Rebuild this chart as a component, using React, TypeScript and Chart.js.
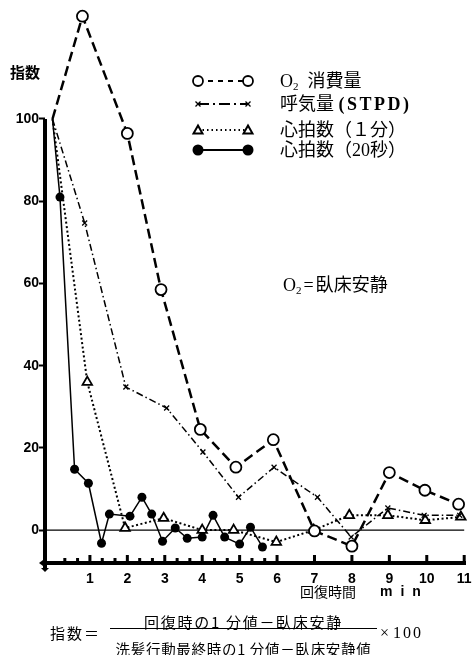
import React, { useEffect, useRef } from 'react';
import { Chart, registerables } from 'chart.js';

Chart.register(...registerables);

// ---- data (minutes, index value) ----
const o2X = [0, 0.8, 2, 2.9, 3.95, 4.9, 5.9, 7, 8, 9, 9.95, 10.85];
const o2Y = [100, 125, 96.5, 58.5, 24.5, 15.3, 22, -0.2, -3.9, 14, 9.7, 6.3];

const ventX = [0, 0.86, 1.96, 3.05, 4.02, 4.97, 5.92, 7.08, 7.98, 8.96, 9.93, 10.88];
const ventY = [100, 74.7, 34.8, 29.7, 19, 8, 15.3, 8, -1.7, 5.4, 3.6, 3.6];

const hr1X = [0, 0.93, 1.94, 2.97, 4.0, 4.84, 5.98, 6.98, 7.93, 8.96, 9.96, 10.91];
const hr1Y = [100, 36, 0.5, 2.9, 0, 0, -2.9, 0, 3.6, 3.6, 2.4, 3.2];

const hr20X = [0, 0.2, 0.59, 0.96, 1.31, 1.52, 2.07, 2.39, 2.65, 2.94, 3.28, 3.6, 4.0, 4.29, 4.6, 5.0, 5.29, 5.61];
const hr20Y = [100, 81, 14.8, 11.4, -3.2, 3.9, 3.4, 8, 3.9, -2.7, 0.5, -2, -1.7, 3.6, -1.7, -3.4, 0.7, -4.1];

const yTickValues = [0, 20, 40, 60, 80, 100];
const xTickValues = [1, 2, 3, 4, 5, 6, 7, 8, 9, 10, 11];
const axisMarks = [0.33, 0.67, 1, 1.33, 1.67, 2, 2.33, 2.67, 3, 3.33, 3.67, 4, 4.33, 4.67, 5, 5.33, 5.67, 6, 7, 8, 9, 10, 11];
const majorMarks = [1, 2, 3, 4, 5, 6, 7, 8, 9, 10, 11];

const legendLabels = ['O₂ 消費量', '呼気量 (STPD)', '心拍数（１分）', '心拍数（20秒）'];

const X_MIN = -0.2;
const X_MAX = 11.04;
const Y_MIN = -8;
const Y_MAX = 127;

const toPts = (xs: number[], ys: number[]) => xs.map((x, i) => ({ x, y: ys[i] }));
// the common starting point (100 at time 0) carries no marker in the original
const radiusSkipFirst = (r: number) => (c: any) => (c.dataIndex === 0 ? 0 : r);

type MarkerKind = 'circle' | 'cross' | 'triangle' | 'dot';

function drawMarker(ctx: CanvasRenderingContext2D, kind: MarkerKind, x: number, y: number) {
  ctx.save();
  ctx.setLineDash([]);
  ctx.strokeStyle = '#000';
  ctx.fillStyle = '#fff';
  if (kind === 'circle') {
    ctx.lineWidth = 1.8;
    ctx.beginPath();
    ctx.arc(x, y, 5, 0, Math.PI * 2);
    ctx.fill();
    ctx.stroke();
  } else if (kind === 'dot') {
    ctx.fillStyle = '#000';
    ctx.beginPath();
    ctx.arc(x, y, 5.5, 0, Math.PI * 2);
    ctx.fill();
  } else if (kind === 'triangle') {
    ctx.lineWidth = 2;
    ctx.beginPath();
    ctx.moveTo(x, y - 4.5);
    ctx.lineTo(x + 4.5, y + 3.5);
    ctx.lineTo(x - 4.5, y + 3.5);
    ctx.closePath();
    ctx.fill();
    ctx.stroke();
  } else {
    ctx.lineWidth = 1.3;
    ctx.beginPath();
    ctx.moveTo(x - 2.5, y - 2.5);
    ctx.lineTo(x + 2.5, y + 2.5);
    ctx.moveTo(x + 2.5, y - 2.5);
    ctx.lineTo(x - 2.5, y + 2.5);
    ctx.stroke();
  }
  ctx.restore();
}

const axisPlugin = {
  id: 'axisDecor',
  beforeDatasetsDraw(chart: any) {
    const { ctx, chartArea, scales } = chart;
    const x = scales.x;
    const y = scales.y;
    ctx.save();
    ctx.strokeStyle = '#000';
    ctx.fillStyle = '#000';
    // zero reference line
    const p0 = y.getPixelForValue(0);
    ctx.lineWidth = 1.3;
    ctx.beginPath();
    ctx.moveTo(chartArea.left, p0);
    ctx.lineTo(x.getPixelForValue(11), p0);
    ctx.stroke();
    // y axis line (only up to 100)
    ctx.lineWidth = 4;
    ctx.beginPath();
    ctx.moveTo(chartArea.left, y.getPixelForValue(100));
    ctx.lineTo(chartArea.left, chartArea.bottom + 5);
    ctx.stroke();
    // small arrow heads at the axis ends
    ctx.beginPath();
    ctx.moveTo(chartArea.left - 4, chartArea.bottom + 5);
    ctx.lineTo(chartArea.left + 4, chartArea.bottom + 5);
    ctx.lineTo(chartArea.left, chartArea.bottom + 9);
    ctx.closePath();
    ctx.fill();
    ctx.beginPath();
    ctx.moveTo(chartArea.left - 2, chartArea.bottom - 3);
    ctx.lineTo(chartArea.left - 2, chartArea.bottom + 3);
    ctx.lineTo(chartArea.left - 6, chartArea.bottom);
    ctx.closePath();
    ctx.fill();
    // small marks above x axis
    axisMarks.forEach((v) => {
      const px = x.getPixelForValue(v);
      const h = majorMarks.includes(v) ? 8 : 5;
      ctx.fillRect(px - 1.5, chartArea.bottom - h, 3, h);
    });
    ctx.restore();
  },
};

const legendRows: { kind: MarkerKind; dash: number[]; width: number; y: number }[] = [
  { kind: 'circle', dash: [5, 5], width: 2, y: 81 },
  { kind: 'cross', dash: [11, 4, 2, 4], width: 1.8, y: 104 },
  { kind: 'triangle', dash: [1.5, 3], width: 1.8, y: 130 },
  { kind: 'dot', dash: [], width: 1.8, y: 150 },
];

const legendPlugin = {
  id: 'lineLegend',
  afterDraw(chart: any) {
    const { ctx } = chart;
    legendRows.forEach((r) => {
      ctx.save();
      ctx.strokeStyle = '#000';
      ctx.lineWidth = r.width;
      ctx.setLineDash(r.dash);
      ctx.beginPath();
      ctx.moveTo(198, r.y);
      ctx.lineTo(248, r.y);
      ctx.stroke();
      ctx.restore();
      drawMarker(ctx, r.kind, 198, r.y);
      drawMarker(ctx, r.kind, 248, r.y);
    });
  },
};

const tickFont = { family: "'Liberation Sans', Arial, sans-serif", size: 14, weight: 'bold' as const };

export default function App() {
  const ref = useRef<HTMLCanvasElement | null>(null);

  useEffect(() => {
    if (!ref.current) return;
    const chart = new Chart(ref.current, {
      type: 'line',
      data: {
        datasets: [
          {
            label: legendLabels[0],
            data: toPts(o2X, o2Y),
            borderColor: '#000',
            borderWidth: 2.5,
            borderDash: [10, 5],
            pointStyle: 'circle',
            pointRadius: radiusSkipFirst(5.5),
            pointBorderWidth: 1.8,
            pointBackgroundColor: '#fff',
            pointBorderColor: '#000',
            tension: 0,
            clip: false,
          },
          {
            label: legendLabels[1],
            data: toPts(ventX, ventY),
            borderColor: '#000',
            borderWidth: 1.5,
            borderDash: [7, 3, 1.5, 3],
            pointStyle: 'crossRot',
            pointRadius: radiusSkipFirst(3.5),
            pointBorderWidth: 1.3,
            pointBorderColor: '#000',
            tension: 0,
            clip: false,
          },
          {
            label: legendLabels[2],
            data: toPts(hr1X, hr1Y),
            borderColor: '#000',
            borderWidth: 2,
            borderDash: [2, 2.5],
            pointStyle: 'triangle',
            pointRadius: radiusSkipFirst(5.5),
            pointBorderWidth: 1.8,
            pointBackgroundColor: '#fff',
            pointBorderColor: '#000',
            tension: 0,
            clip: false,
          },
          {
            label: legendLabels[3],
            data: toPts(hr20X, hr20Y),
            borderColor: '#000',
            borderWidth: 1.5,
            pointStyle: 'circle',
            pointRadius: radiusSkipFirst(4.5),
            pointBorderWidth: 0,
            pointBackgroundColor: '#000',
            pointBorderColor: '#000',
            tension: 0,
            clip: false,
          },
        ],
      },
      options: {
        responsive: false,
        animation: false,
        devicePixelRatio: 1,
        layout: { padding: { top: 8, right: 2, left: 0, bottom: 0 } },
        plugins: {
          legend: { display: false },
          tooltip: { enabled: false },
          title: { display: false },
        },
        scales: {
          x: {
            type: 'linear',
            min: X_MIN,
            max: X_MAX,
            grid: { display: false },
            border: { display: true, color: '#000', width: 4 },
            afterBuildTicks: (s: any) => {
              s.ticks = xTickValues.map((v) => ({ value: v }));
            },
            afterFit: (s: any) => {
              s.height = 92;
              s.paddingLeft = 0;
              s.paddingRight = 0;
            },
            ticks: {
              color: '#000',
              font: tickFont,
              padding: 0,
              maxRotation: 0,
              autoSkip: false,
              callback: (v: any) => String(v),
            },
          },
          y: {
            type: 'linear',
            min: Y_MIN,
            max: Y_MAX,
            grid: {
              display: true,
              drawOnChartArea: false,
              drawTicks: true,
              tickLength: 6,
              tickWidth: 2,
              tickColor: '#000',
            },
            border: { display: false },
            afterBuildTicks: (s: any) => {
              s.ticks = yTickValues.map((v) => ({ value: v }));
            },
            afterFit: (s: any) => {
              s.width = 45;
              s.paddingTop = 0;
              s.paddingBottom = 0;
            },
            ticks: {
              color: '#000',
              font: tickFont,
              padding: 0,
              callback: (v: any) => String(v),
            },
          },
        },
      },
      plugins: [axisPlugin, legendPlugin],
    });
    return () => chart.destroy();
  }, []);

  const serif = "'Liberation Serif', 'Noto Sans CJK JP', serif";
  const cjk = "'Noto Sans CJK JP', 'Liberation Serif', sans-serif";
  const abs = (left: number, top: number, extra: React.CSSProperties = {}): React.CSSProperties => ({
    position: 'absolute',
    left,
    top,
    whiteSpace: 'nowrap',
    color: '#000',
    ...extra,
  });

  return (
    <div style={{ position: 'absolute', left: 0, top: 0, width: 473, height: 655, overflow: 'hidden', background: '#fff' }}>
      <canvas ref={ref} width={473} height={655} style={{ display: 'block', width: 473, height: 655 }} />

      <div style={abs(10, 62, { fontFamily: cjk, fontSize: 15, fontWeight: 700, lineHeight: '20px' })}>指数</div>

      <div style={abs(280, 71, { fontFamily: serif, fontSize: 18, lineHeight: '20px' })}>
        O<sub style={{ fontSize: 11, verticalAlign: '-3px' }}>2</sub>
        <span style={{ marginLeft: 9 }}>消費量</span>
      </div>
      <div style={abs(280, 94, { fontFamily: serif, fontSize: 18, lineHeight: '20px' })}>
        呼気量 <span style={{ fontWeight: 700, letterSpacing: 2.5 }}>(STPD)</span>
      </div>
      <div style={abs(280, 120, { fontFamily: serif, fontSize: 18, lineHeight: '20px' })}>心拍数（１分）</div>
      <div style={abs(280, 140, { fontFamily: serif, fontSize: 18, lineHeight: '20px' })}>心拍数（20秒）</div>

      <div style={abs(283, 275, { fontFamily: serif, fontSize: 18, lineHeight: '20px' })}>
        O<sub style={{ fontSize: 11, verticalAlign: '-3px' }}>2</sub>
        <span style={{ margin: '0 2px' }}>=</span>臥床安静
      </div>

      <div style={abs(300, 583, { fontFamily: cjk, fontSize: 14, lineHeight: '16px' })}>回復時間</div>
      <div style={abs(380, 583, { fontFamily: "'Liberation Sans', Arial, sans-serif", fontSize: 14, fontWeight: 700, lineHeight: '16px', letterSpacing: 8 })}>min</div>

      <div style={abs(50, 624, { fontFamily: cjk, fontSize: 15, lineHeight: '18px', letterSpacing: 2 })}>指数＝</div>
      <div style={{ ...abs(110, 613, { fontFamily: cjk, fontSize: 15, lineHeight: '18px', letterSpacing: 1.7 }), width: 267, textAlign: 'center' }}>
        回復時の1 分値－臥床安静
      </div>
      <div style={abs(110, 628, { width: 267, height: 1, background: '#000' })} />
      <div style={{ ...abs(110, 640, { fontFamily: cjk, fontSize: 14.5, lineHeight: '18px', letterSpacing: 0.7 }), width: 267, textAlign: 'center' }}>
        洗髪行動最終時の1 分値－臥床安静値
      </div>
      <div style={abs(380, 623, { fontFamily: serif, fontSize: 16, lineHeight: '20px' })}>
        <span style={{ marginRight: 4 }}>×</span>
        <span style={{ letterSpacing: 2 }}>100</span>
      </div>
    </div>
  );
}
